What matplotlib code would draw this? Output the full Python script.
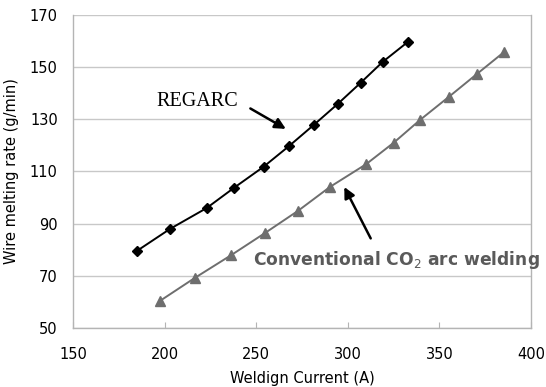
import matplotlib
matplotlib.use("Agg")
from matplotlib import pyplot as plt

# REGARC series
regarc_x = [185, 203, 223, 238, 254, 268, 281.5, 294.5, 307, 319, 333]
regarc_y = [79.6, 88, 96, 103.8, 111.8, 119.8, 127.9, 135.9, 144, 152, 159.8]

# conventional CO2 series
conv_x = [197.5, 216.5, 236.5, 255, 273, 290.3, 310, 325, 339.5, 355.3, 370.5, 385.3]
conv_y = [60.4, 69.2, 78, 86.5, 95, 104.1, 112.8, 121, 129.8, 138.7, 147.4, 155.8]

x_ticks = [150, 200, 250, 300, 350, 400]
y_ticks = [50, 70, 90, 110, 130, 150, 170]

fig = plt.figure(figsize=(5.46, 3.87), dpi=100)
ax = fig.add_axes([0.1337, 0.1525, 0.8388, 0.8087])

ax.set_xlim(150, 400)
ax.set_ylim(50, 170)
ax.set_xticks(x_ticks)
ax.set_yticks(y_ticks)
ax.grid(axis="y", color="#c8c8c8", linewidth=1.0)
ax.set_axisbelow(True)
for s in ["top", "right", "left", "bottom"]:
    ax.spines[s].set_color("#b4b4b4")
    ax.spines[s].set_linewidth(1.0)
ax.spines["top"].set_visible(False)
ax.tick_params(axis="x", direction="in", length=4, color="#b4b4b4",
               labelsize=10.5, pad=14)
ax.tick_params(axis="y", length=0, labelsize=10.5, pad=11)

ax.plot(regarc_x, regarc_y, color="black", linewidth=1.4,
        marker="D", markersize=5, zorder=3)
ax.plot(conv_x, conv_y, color="#6e6e6e", linewidth=1.4,
        marker="^", markersize=7, zorder=3)

ax.set_xlabel("Weldign Current (A)", fontsize=10.5, labelpad=6)
ax.set_ylabel("Wire melting rate (g/min)", fontsize=10.5, labelpad=8)

ax.text(218, 137, "REGARC", family="Liberation Serif", fontsize=14.5,
        ha="center", va="center")
ax.annotate("", xy=(267.5, 125.8), xytext=(245.5, 134.7),
            arrowprops=dict(arrowstyle="-|>", color="black", lw=1.8,
                            mutation_scale=16))

ax.annotate("", xy=(297.4, 105), xytext=(313.2, 83.4),
            arrowprops=dict(arrowstyle="-|>", color="black", lw=1.8,
                            mutation_scale=16))
ax.text(248.3, 76.2, "Conventional CO$_2$ arc welding", fontsize=12.3,
        fontweight="bold", color="#5a5a5a", ha="left", va="center",
        clip_on=False)

fig.savefig("out.png", dpi=100)
